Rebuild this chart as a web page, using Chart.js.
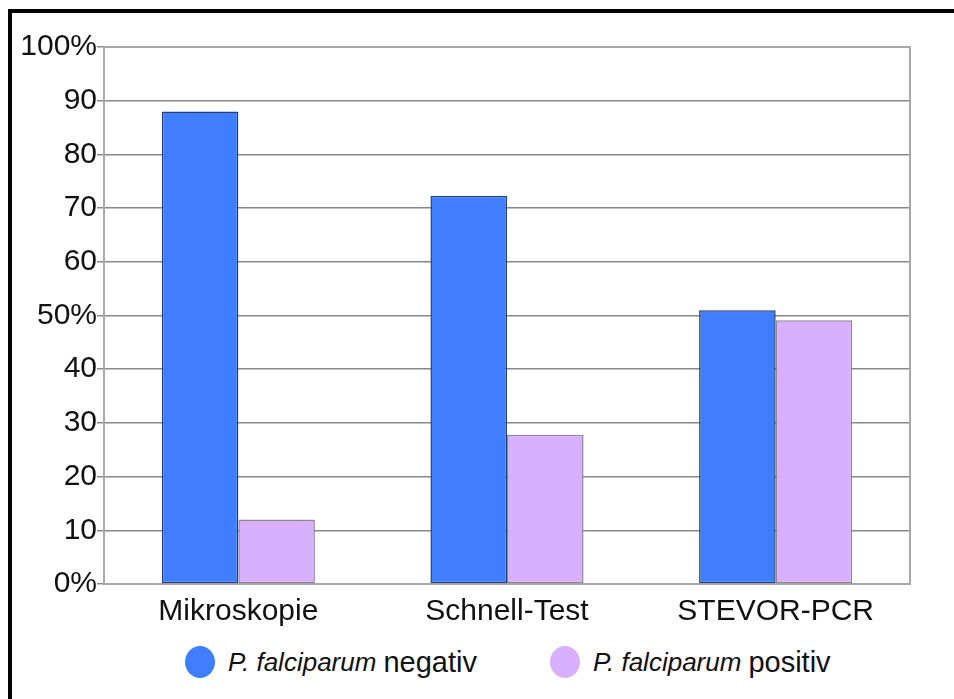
<!DOCTYPE html>
<html>
<head>
<meta charset="utf-8">
<script src="https://cdn.jsdelivr.net/npm/chart.js@4.4.0/dist/chart.umd.min.js"></script>
<style>
    html, body { margin: 0; padding: 0; background: #fff; }
    body { width: 954px; height: 699px; position: relative; overflow: hidden; font-family: "Liberation Sans", Arial, sans-serif; }
    #frame { position: absolute; left: 8px; top: 9px; right: -10px; bottom: -10px; border-left: 4px solid #000; border-top: 4px solid #000; }
    #wrap { position: absolute; left: 12px; top: 13px; width: 942px; height: 623px; }
    .leg { position: absolute; top: 645px; height: 34px; display: flex; align-items: center; color: #111; }
    .leg .dot { width: 30px; height: 32px; border-radius: 50%; margin-right: 13px; }
    .leg i { font-size: 26px; margin-right: 7px; }
    .leg span { font-size: 29px; }
</style>
</head>
<body>
<div id="frame"></div>
<div id="wrap"><canvas id="barChart"></canvas></div>
<div id="legend"></div>
<script>
// dados (%)
const categorias = ['Mikroskopie', 'Schnell-Test', 'STEVOR-PCR'];
const negativ = [88, 72.3, 51];
const positiv = [12, 27.8, 49.1];
const yTickLabels = ['0%', '10', '20', '30', '40', '50%', '60', '70', '80', '90', '100%'];
const legendItalic = ['P. falciparum', 'P. falciparum'];
const legendNormal = ['negativ', 'positiv'];

const corFundo = ['#3f7fff', '#d8b0ff'];
const corBorda = ['#263d78', '#8c8694'];

document.addEventListener('DOMContentLoaded', function () {
    // legenda em HTML (texto misto itálico/normal)
    const legendLeft = [185, 550];
    const legend = document.getElementById('legend');
    legendNormal.forEach(function (txt, i) {
        const item = document.createElement('div');
        item.className = 'leg';
        item.style.left = legendLeft[i] + 'px';
        item.innerHTML = '<div class="dot" style="background:' + corFundo[i] + '"></div><i></i><span></span>';
        item.querySelector('i').textContent = legendItalic[i];
        item.querySelector('span').textContent = txt;
        legend.appendChild(item);
    });

    // moldura da área do gráfico
    const bordaArea = {
        id: 'bordaArea',
        afterDraw(chart) {
            const a = chart.chartArea;
            const c = chart.ctx;
            c.save();
            c.strokeStyle = '#a8a8a8';
            c.lineWidth = 2;
            c.beginPath();
            c.moveTo(a.left, a.top);
            c.lineTo(a.right, a.top);
            c.lineTo(a.right, a.bottom);
            c.stroke();
            c.restore();
        }
    };

    try {
        const ctx = document.getElementById('barChart').getContext('2d');
        new Chart(ctx, {
            type: 'bar',
            data: {
                labels: categorias,
                datasets: [
                    {
                        label: legendItalic[0] + ' ' + legendNormal[0],
                        data: negativ,
                        backgroundColor: corFundo[0],
                        borderColor: corBorda[0],
                        borderWidth: 1.5,
                        borderSkipped: false
                    },
                    {
                        label: legendItalic[1] + ' ' + legendNormal[1],
                        data: positiv,
                        backgroundColor: corFundo[1],
                        borderColor: corBorda[1],
                        borderWidth: 1.5,
                        borderSkipped: false
                    }
                ]
            },
            options: {
                animation: false,
                responsive: true,
                maintainAspectRatio: false,
                datasets: {
                    bar: { categoryPercentage: 0.57, barPercentage: 1.0 }
                },
                layout: {
                    padding: { left: 0, right: 44, top: 34, bottom: 4 }
                },
                plugins: {
                    legend: { display: false },
                    tooltip: { enabled: false }
                },
                scales: {
                    x: {
                        grid: { display: false },
                        border: { color: '#a8a8a8', width: 2 },
                        ticks: {
                            color: '#111',
                            padding: 2,
                            font: { family: 'Liberation Sans', size: 30 }
                        }
                    },
                    y: {
                        min: 0,
                        max: 100,
                        afterFit: function (scale) { scale.width = 92; },
                        grid: { color: '#888', lineWidth: 1.5, tickLength: 7, drawTicks: true },
                        border: { color: '#a8a8a8', width: 2 },
                        ticks: {
                            stepSize: 10,
                            padding: 0,
                            color: '#111',
                            font: { family: 'Liberation Sans', size: 30 },
                            callback: function (v) { return yTickLabels[Math.round(v / 10)]; }
                        }
                    }
                }
            },
            plugins: [bordaArea]
        });
    } catch (error) {
        console.error('Erro ao montar gráfico:', error);
    }
});
</script>
</body>
</html>
